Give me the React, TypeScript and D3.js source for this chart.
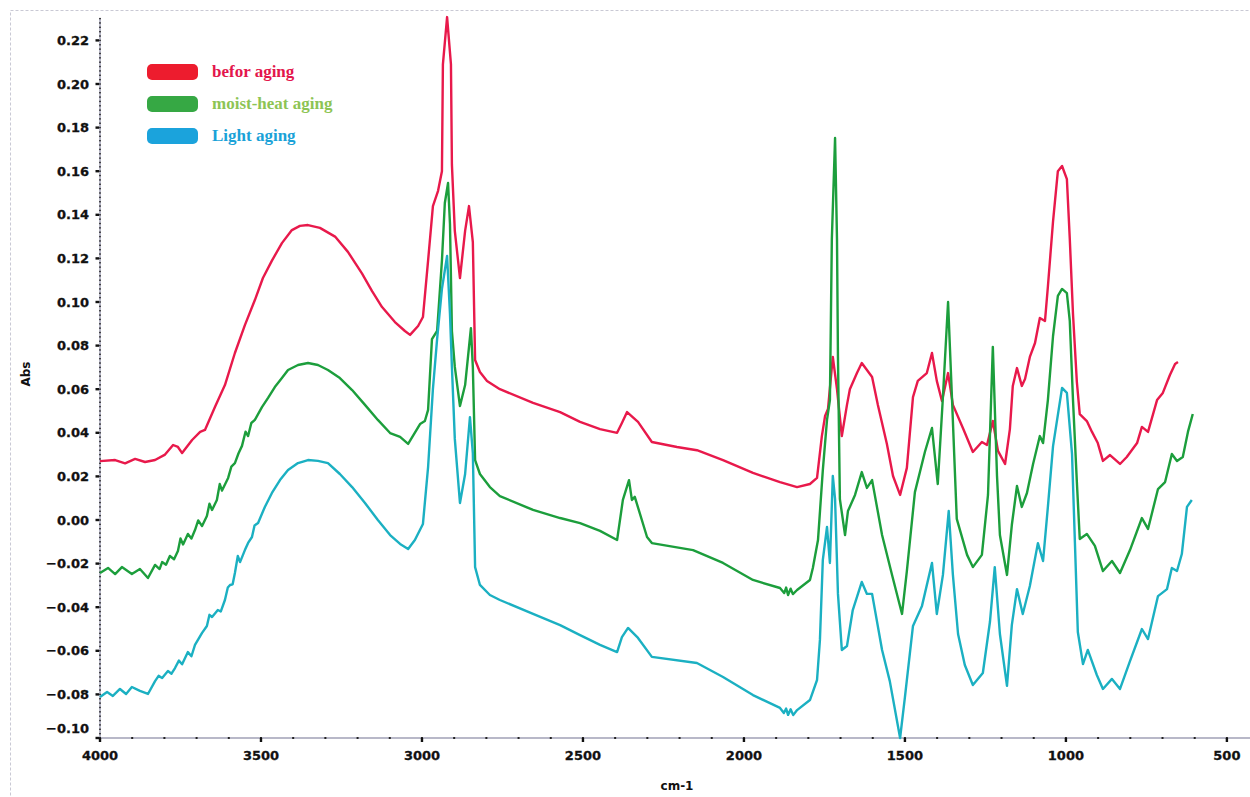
import React, { useRef, useEffect } from "react";
import * as d3 from "d3";

// FTIR spectra: [wavenumber cm-1, absorbance]
const beforAging: [number, number][] = [
  [4000, 0.027], [3953, 0.0275], [3922, 0.026], [3891, 0.028], [3860, 0.0266], [3829, 0.0275],
  [3798, 0.03], [3773, 0.0344], [3758, 0.0335], [3745, 0.0307], [3714, 0.0367], [3689, 0.0404],
  [3674, 0.0413], [3643, 0.0518], [3612, 0.0619], [3581, 0.0766], [3550, 0.0894], [3519, 0.1009],
  [3494, 0.111], [3466, 0.119], [3435, 0.127], [3404, 0.133], [3379, 0.1349], [3354, 0.1353],
  [3317, 0.134], [3270, 0.13], [3230, 0.123], [3186, 0.113], [3155, 0.105], [3124, 0.0977],
  [3084, 0.0908], [3053, 0.0867], [3037, 0.0849], [3012, 0.089], [2997, 0.0931], [2981, 0.119],
  [2966, 0.144], [2950, 0.151], [2938, 0.16], [2935, 0.209], [2922, 0.2307], [2910, 0.209],
  [2907, 0.163], [2898, 0.1326], [2882, 0.111], [2866, 0.1326], [2854, 0.144], [2842, 0.1275],
  [2835, 0.0734], [2820, 0.0679], [2798, 0.0638], [2758, 0.06], [2655, 0.0537], [2571, 0.0495],
  [2509, 0.045], [2447, 0.0417], [2394, 0.04], [2379, 0.0445], [2363, 0.0495], [2329, 0.045],
  [2286, 0.0358], [2208, 0.0335], [2146, 0.032], [2065, 0.0275], [1972, 0.0216], [1888, 0.0174],
  [1835, 0.0151], [1795, 0.0165], [1773, 0.0193], [1758, 0.0385], [1748, 0.0477], [1739, 0.0509],
  [1724, 0.0748], [1711, 0.06], [1696, 0.0385], [1680, 0.0528], [1671, 0.06], [1649, 0.0674],
  [1634, 0.072], [1602, 0.0656], [1584, 0.0528], [1556, 0.0349], [1537, 0.0202], [1515, 0.0115],
  [1494, 0.0239], [1475, 0.0564], [1460, 0.0638], [1432, 0.0674], [1416, 0.0766], [1401, 0.0638],
  [1385, 0.0546], [1366, 0.0674], [1351, 0.0528], [1320, 0.0422], [1289, 0.0312], [1261, 0.0358],
  [1245, 0.0344], [1227, 0.0454], [1211, 0.0317], [1189, 0.0257], [1174, 0.0417], [1165, 0.0615],
  [1152, 0.0697], [1137, 0.0615], [1127, 0.0647], [1112, 0.0748], [1096, 0.0812], [1081, 0.0927],
  [1065, 0.0913], [1056, 0.107], [1040, 0.137], [1025, 0.16], [1012, 0.1624], [997, 0.1564],
  [988, 0.129], [978, 0.0945], [966, 0.0633], [957, 0.0486], [935, 0.0454], [919, 0.0404],
  [901, 0.0353], [885, 0.0271], [863, 0.0298], [832, 0.0257], [811, 0.0289], [779, 0.0353],
  [764, 0.0427], [745, 0.0404], [717, 0.055], [699, 0.0583], [677, 0.0665], [661, 0.0716],
  [652, 0.0725],
];

const moistHeatAging: [number, number][] = [
  [4000, -0.0243], [3975, -0.022], [3953, -0.0248], [3932, -0.0216], [3901, -0.0248], [3876, -0.0225],
  [3851, -0.0266], [3829, -0.0206], [3815, -0.0225], [3807, -0.0193], [3795, -0.0205], [3783, -0.0165],
  [3770, -0.018], [3758, -0.0142], [3750, -0.0085], [3742, -0.0112], [3727, -0.0064], [3716, -0.0085],
  [3705, -0.0046], [3695, -0.0002], [3683, -0.0028], [3668, 0.0018], [3660, 0.0075], [3652, 0.0046],
  [3637, 0.0092], [3628, 0.0165], [3621, 0.0135], [3602, 0.0193], [3592, 0.0245], [3581, 0.0261],
  [3570, 0.0305], [3559, 0.034], [3548, 0.0405], [3540, 0.0385], [3530, 0.0445], [3519, 0.0459],
  [3497, 0.0518], [3478, 0.056], [3457, 0.061], [3435, 0.0651], [3416, 0.0688], [3385, 0.0711],
  [3354, 0.072], [3323, 0.0711], [3292, 0.0688], [3255, 0.0651], [3217, 0.0596], [3177, 0.0528],
  [3137, 0.0459], [3099, 0.0399], [3068, 0.0381], [3043, 0.0349], [3006, 0.044], [2991, 0.0454],
  [2981, 0.0505], [2969, 0.083], [2953, 0.0867], [2938, 0.119], [2929, 0.1454], [2919, 0.1546],
  [2913, 0.1358], [2907, 0.0867], [2898, 0.0702], [2882, 0.0523], [2866, 0.0619], [2848, 0.088],
  [2842, 0.0702], [2835, 0.0275], [2820, 0.0211], [2789, 0.0151], [2758, 0.011], [2655, 0.0046],
  [2571, 0.0009], [2509, -0.0014], [2447, -0.005], [2394, -0.0092], [2376, 0.0092], [2357, 0.0183],
  [2348, 0.0092], [2339, 0.0106], [2301, -0.0078], [2286, -0.0106], [2158, -0.0138], [2065, -0.0197],
  [1972, -0.0275], [1888, -0.0312], [1875, -0.0335], [1869, -0.031], [1863, -0.0344], [1855, -0.0315],
  [1848, -0.034], [1835, -0.0321], [1795, -0.0275], [1786, -0.022],
  [1770, -0.0092], [1755, 0.0229], [1742, 0.0459], [1733, 0.055], [1727, 0.1289], [1717, 0.1752],
  [1711, 0.1289], [1708, 0.0748], [1702, 0.0096], [1686, -0.0069], [1677, 0.0041], [1655, 0.0115],
  [1634, 0.022], [1618, 0.0147], [1602, 0.0183], [1571, -0.0069], [1540, -0.0252], [1509, -0.0431],
  [1494, -0.0234], [1469, 0.0128], [1438, 0.0312], [1416, 0.0422], [1398, 0.0165], [1382, 0.0564],
  [1366, 0.1], [1354, 0.0564], [1339, 0.0005], [1307, -0.016], [1289, -0.0216], [1261, -0.016],
  [1242, 0.0115], [1227, 0.0794], [1214, 0.0202], [1205, -0.0069], [1183, -0.0252], [1168, -0.0023],
  [1152, 0.0156], [1137, 0.006], [1121, 0.0124], [1102, 0.0257], [1081, 0.0385], [1071, 0.0353],
  [1056, 0.055], [1040, 0.0844], [1025, 0.1028], [1012, 0.106], [997, 0.1041], [988, 0.0913],
  [978, 0.055], [966, 0.0174], [957, -0.0087], [935, -0.0064], [910, -0.0119], [885, -0.0234],
  [857, -0.0188], [832, -0.0243], [801, -0.0138], [764, 0.0009], [745, -0.0041], [714, 0.0142],
  [692, 0.0174], [671, 0.0303], [655, 0.0271], [637, 0.0289], [621, 0.0404], [606, 0.0486],
];

const lightAging: [number, number][] = [
  [4000, -0.0812], [3978, -0.0789], [3960, -0.0807], [3938, -0.0775], [3919, -0.0798], [3901, -0.0766],
  [3876, -0.0784], [3851, -0.0798], [3829, -0.0739], [3818, -0.0715], [3807, -0.0725], [3789, -0.0693],
  [3778, -0.0705], [3767, -0.0679], [3755, -0.0645], [3745, -0.0662], [3727, -0.0606], [3716, -0.0625],
  [3705, -0.0573], [3694, -0.0545], [3683, -0.0518], [3668, -0.0486], [3660, -0.0435], [3652, -0.0445],
  [3634, -0.0413], [3625, -0.042], [3612, -0.0367], [3603, -0.031], [3596, -0.0298], [3588, -0.0295],
  [3581, -0.0243], [3572, -0.0165], [3565, -0.0193], [3550, -0.0138], [3540, -0.0105], [3528, -0.0078],
  [3520, -0.0025], [3509, -0.0014], [3488, 0.006], [3466, 0.0124], [3441, 0.0183], [3416, 0.0229],
  [3385, 0.0261], [3354, 0.0275], [3323, 0.0271], [3292, 0.0261], [3255, 0.0211], [3217, 0.0151],
  [3177, 0.0078], [3137, 0.0], [3099, -0.0069], [3068, -0.011], [3043, -0.0133], [3022, -0.0092],
  [2997, -0.0018], [2981, 0.0243], [2966, 0.0601], [2953, 0.083], [2938, 0.106], [2922, 0.1211],
  [2913, 0.0945], [2907, 0.0702], [2898, 0.0372], [2882, 0.0078], [2866, 0.0211], [2851, 0.0472],
  [2842, 0.0307], [2835, -0.0216], [2820, -0.0298], [2789, -0.0344], [2758, -0.0367], [2655, -0.0431],
  [2571, -0.0482], [2509, -0.0528], [2447, -0.0573], [2394, -0.0606], [2379, -0.0537], [2360, -0.0495],
  [2329, -0.0541], [2286, -0.0628], [2146, -0.0656], [2065, -0.072], [1972, -0.0803], [1888, -0.0862],
  [1876, -0.0885], [1869, -0.0865], [1863, -0.0894], [1855, -0.0868], [1847, -0.0895], [1835, -0.0872],
  [1795, -0.0826], [1773, -0.0734], [1764, -0.055], [1755, -0.0183],
  [1742, -0.0032], [1733, -0.0197], [1724, 0.0202], [1717, 0.0096], [1708, -0.0339], [1696, -0.0596],
  [1680, -0.0578], [1662, -0.0413], [1634, -0.0284], [1618, -0.0339], [1602, -0.0339], [1571, -0.0596],
  [1547, -0.0739], [1515, -0.1], [1500, -0.0812], [1475, -0.0486], [1447, -0.0394], [1416, -0.0197],
  [1401, -0.0431], [1382, -0.0252], [1364, 0.0041], [1351, -0.0252], [1335, -0.0523], [1314, -0.0665],
  [1289, -0.0757], [1258, -0.0702], [1236, -0.0468], [1221, -0.0216], [1205, -0.0523], [1183, -0.0761],
  [1168, -0.0482], [1152, -0.0317], [1134, -0.0431], [1112, -0.0303], [1087, -0.0106], [1071, -0.0188],
  [1056, 0.006], [1040, 0.0339], [1012, 0.0606], [997, 0.0583], [981, 0.0303], [972, -0.0106],
  [963, -0.0514], [947, -0.0661], [932, -0.0596], [904, -0.0711], [885, -0.0775], [857, -0.0729],
  [832, -0.0775], [801, -0.0647], [764, -0.05], [745, -0.0546], [714, -0.0349], [686, -0.0317],
  [671, -0.022], [655, -0.0234], [640, -0.0156], [624, 0.006], [609, 0.0092],
];

const seriesNames = ["befor aging", "moist-heat aging", "Light aging"];
const lineColors = ["#e8194b", "#1c9e3c", "#1bb0c2"];
const swatchColors = ["#ed1c2e", "#36a844", "#1ba3dc"];
const textColors = ["#e3164c", "#8dc454", "#1aa2d8"];

const yTicks = [-0.1, -0.08, -0.06, -0.04, -0.02, 0, 0.02, 0.04, 0.06, 0.08, 0.1, 0.12, 0.14, 0.16, 0.18, 0.2, 0.22];
const xTicks = [4000, 3500, 3000, 2500, 2000, 1500, 1000, 500];

const App = () => {
  const svgRef = useRef<SVGSVGElement>(null);
  const width = 1250;
  const height = 797;

  useEffect(() => {
    const svg = d3.select(svgRef.current);
    svg.selectAll("*").remove();

    const x = d3.scaleLinear().domain([4000, 450]).range([100, 1243]);
    const y = d3.scaleLinear().domain([-0.1, 0.23]).range([738, 18.6]);
    const fmt = d3.format(".2f");
    const labelFont = "DejaVu Sans, sans-serif";

    // frame
    svg.append("rect")
      .attr("x", 10.5).attr("y", 10.5).attr("width", 1260).attr("height", 800)
      .attr("fill", "none").attr("stroke", "#c9c9d4").attr("stroke-dasharray", "3,2");

    // y axis
    svg.append("line")
      .attr("x1", 100).attr("x2", 100).attr("y1", 18).attr("y2", 738)
      .attr("stroke", "#b8b8c8").attr("stroke-width", 2);
    svg.append("g").selectAll("rect")
      .data(d3.range(-0.1, 0.2305, 0.002))
      .join("rect")
      .attr("x", 99.2).attr("y", (d) => y(d) - 0.7).attr("width", 1.6).attr("height", 1.4)
      .attr("fill", "#222");
    const yg = svg.append("g");
    yg.selectAll("line").data(yTicks).join("line")
      .attr("x1", 95.5).attr("x2", 99).attr("y1", (d) => y(d)).attr("y2", (d) => y(d))
      .attr("stroke", "#111").attr("stroke-width", 2.4);
    yg.selectAll("text").data(yTicks).join("text")
      .attr("x", 89)
      .attr("y", (d) => (d === -0.1 ? y(d) - 10 : y(d)))
      .attr("dy", "0.36em")
      .attr("text-anchor", "end")
      .attr("font-family", labelFont).attr("font-weight", "bold").attr("font-size", 13)
      .attr("fill", "#111").attr("stroke", "#111").attr("stroke-width", 0.3)
      .text((d) => fmt(d));

    // x axis
    svg.append("line")
      .attr("x1", 100).attr("x2", 1250).attr("y1", 738).attr("y2", 738)
      .attr("stroke", "#b8b8c8").attr("stroke-width", 2);
    svg.append("g").selectAll("rect")
      .data(d3.range(4000, 499, -100))
      .join("rect")
      .attr("x", (d) => x(d) - 1).attr("y", 737).attr("width", 2).attr("height", 2)
      .attr("fill", "#222");
    const xg = svg.append("g");
    xg.selectAll("line").data(xTicks).join("line")
      .attr("x1", (d) => x(d)).attr("x2", (d) => x(d)).attr("y1", 738).attr("y2", 742)
      .attr("stroke", "#111").attr("stroke-width", 2.4);
    xg.selectAll("text").data(xTicks).join("text")
      .attr("x", (d) => x(d)).attr("y", 760)
      .attr("text-anchor", "middle")
      .attr("font-family", labelFont).attr("font-weight", "bold").attr("font-size", 13)
      .attr("fill", "#111").attr("stroke", "#111").attr("stroke-width", 0.3)
      .text((d) => d);

    // axis titles
    svg.append("text")
      .attr("transform", "translate(30,374) rotate(-90)")
      .attr("text-anchor", "middle")
      .attr("font-family", labelFont).attr("font-weight", "bold").attr("font-size", 12)
      .attr("fill", "#111")
      .text("Abs");
    svg.append("text")
      .attr("x", 677).attr("y", 790)
      .attr("text-anchor", "middle")
      .attr("font-family", labelFont).attr("font-weight", "bold").attr("font-size", 12)
      .attr("fill", "#111")
      .text("cm-1");

    // spectra
    const spectrum = d3.line<[number, number]>()
      .x((d) => x(d[0]))
      .y((d) => y(d[1]));
    [beforAging, moistHeatAging, lightAging].forEach((data, i) => {
      svg.append("path")
        .datum(data)
        .attr("d", spectrum)
        .attr("fill", "none")
        .attr("stroke", lineColors[i])
        .attr("stroke-width", 2.4)
        .attr("stroke-linejoin", "round");
    });

    // legend
    const legend = svg.append("g");
    seriesNames.forEach((name, i) => {
      const top = 64 + i * 32;
      legend.append("rect")
        .attr("x", 147).attr("y", top).attr("width", 51).attr("height", 16).attr("rx", 5)
        .attr("fill", swatchColors[i]);
      legend.append("text")
        .attr("x", 212).attr("y", top + 13)
        .attr("font-family", "Liberation Serif, serif").attr("font-weight", "bold").attr("font-size", 17)
        .attr("fill", textColors[i])
        .text(name);
    });
  }, []);

  return (
    <svg
      ref={svgRef}
      width={width}
      height={height}
      style={{ position: "absolute", left: 0, top: 0, background: "#fff" }}
    />
  );
};

export default App;
